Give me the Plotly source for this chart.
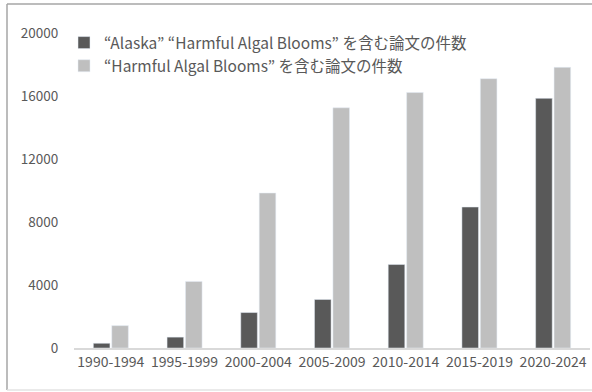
import plotly.graph_objects as go

periods = ["1990-1994", "1995-1999", "2000-2004", "2005-2009", "2010-2014", "2015-2019", "2020-2024"]
alaska_hab = [300, 690, 2250, 3080, 5300, 8950, 15850]
hab_total = [1420, 4230, 9840, 15250, 16220, 17100, 17820]
y_ticks = [0, 4000, 8000, 12000, 16000, 20000]
y_tick_labels = [str(v) for v in y_ticks]

names = [
    "“Alaska” “Harmful Algal Blooms” を含む論文の件数",
    "“Harmful Algal Blooms” を含む論文の件数",
]

FONT = "Noto Sans CJK JP"
TEXT = "#595959"

fig = go.Figure()
fig.add_bar(x=periods, y=alaska_hab, name=names[0], marker_color="#595959")
fig.add_bar(x=periods, y=hab_total, name=names[1], marker_color="#bfbfbf")

# plot area in pixels: left 74, right 590, top 33, bottom 348
W, H = 592, 392
L, R, T, B = 74, 2, 33, 44
pw, ph = W - L - R, H - T - B


def px_x(x):
    return (x - L) / pw


def px_y(y):
    return (H - B - y) / ph


# outer frame lines
frame = [
    (7, 4, 592, 4, "#a6a6a6"),
    (7, 4, 7, 390, "#a6a6a6"),
    (7, 390, 592, 390, "#e3e3e3"),
]
shapes = [
    dict(type="line", xref="paper", yref="paper",
         x0=px_x(a), y0=px_y(b), x1=px_x(c), y1=px_y(d),
         line=dict(color=col, width=1.5))
    for a, b, c, d, col in frame
]

fig.update_layout(
    width=W, height=H,
    margin=dict(l=L, r=R, t=T, b=B),
    paper_bgcolor="white", plot_bgcolor="white",
    barmode="group", bargap=0.5, bargroupgap=0.1,
    font=dict(family=FONT, color=TEXT, size=13),
    showlegend=True,
    legend=dict(x=px_x(64), y=px_y(26), xanchor="left", yanchor="top",
                font=dict(size=15.5, color=TEXT, family=FONT),
                bgcolor="rgba(0,0,0,0)", tracegroupgap=0,
                itemwidth=30, traceorder="normal"),
    shapes=shapes,
    xaxis=dict(showline=True, linecolor="#d9d9d9", linewidth=1.5, ticks="",
               tickfont=dict(size=14, color=TEXT), showgrid=False),
    yaxis=dict(range=[0, 20000], tickvals=y_ticks, ticktext=y_tick_labels,
               showgrid=False, showline=False, zeroline=False,
               ticks="outside", ticklen=12, tickcolor="rgba(0,0,0,0)",
               tickfont=dict(size=13.5, color=TEXT)),
)

fig.write_html("out.html")
